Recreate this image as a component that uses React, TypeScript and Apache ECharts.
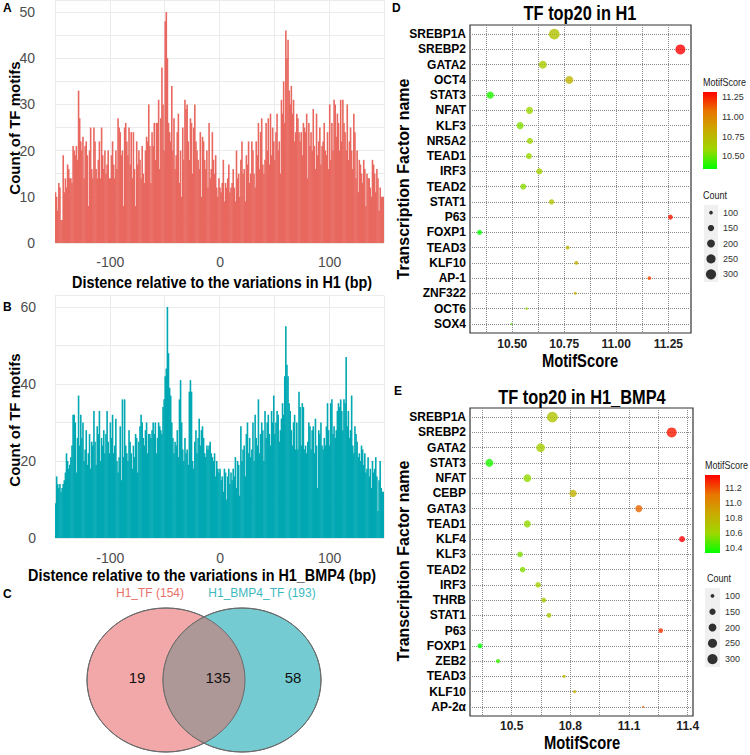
import React, { useEffect, useRef } from 'react';
import * as echarts from 'echarts';

const SANS = "'Liberation Sans', Arial, sans-serif";
const SQUEEZE = 0.82;

// ---------- Panels A / B : TF motif counts per bp position ----------
const binStart = -150;
const distanceTicks = [-100, 0, 100];
const countsH1 = [
  11, 10, 7, 13, 12, 5, 5, 19, 11, 14,
  12, 17, 16, 14, 14, 13, 21, 20, 19, 21,
  18, 33, 27, 22, 20, 23, 14, 21, 22, 19,
  8, 20, 25, 16, 14, 25, 22, 16, 14, 18,
  22, 14, 25, 19, 16, 20, 15, 17, 20, 14,
  14, 19, 22, 17, 14, 20, 16, 27, 25, 24,
  19, 20, 8, 25, 26, 22, 19, 25, 17, 24,
  14, 24, 16, 8, 22, 17, 20, 18, 14, 21,
  15, 13, 20, 23, 22, 30, 21, 13, 24, 21,
  26, 18, 26, 26, 31, 16, 27, 38, 30, 20,
  48, 50, 40, 26, 24, 22, 34, 20, 27, 16,
  19, 24, 28, 13, 20, 10, 25, 18, 31, 29,
  30, 22, 18, 27, 26, 15, 25, 30, 22, 20,
  18, 16, 24, 10, 23, 22, 18, 16, 20, 12,
  26, 14, 16, 24, 18, 15, 19, 12, 10, 14,
  12, 11, 13, 18, 9, 13, 12, 14, 17, 11,
  12, 13, 16, 12, 9, 20, 14, 15, 10, 18,
  22, 15, 16, 9, 19, 17, 22, 13, 15, 22,
  20, 15, 12, 22, 19, 26, 16, 24, 27, 17,
  15, 18, 26, 20, 27, 17, 28, 19, 25, 22,
  18, 24, 28, 20, 22, 15, 31, 28, 35, 26,
  46, 40, 44, 33, 30, 34, 28, 31, 22, 24,
  28, 27, 24, 22, 24, 19, 26, 25, 24, 28,
  14, 26, 21, 24, 20, 29, 21, 16, 28, 19,
  22, 25, 17, 21, 22, 26, 20, 19, 24, 16,
  30, 18, 26, 20, 31, 30, 23, 28, 26, 20,
  31, 22, 31, 26, 24, 20, 30, 18, 22, 25,
  20, 16, 28, 24, 14, 20, 11, 18, 17, 15,
  13, 18, 16, 8, 15, 14, 14, 12, 10, 18,
  17, 15, 11, 16, 14, 7, 12, 10, 10, 10,
];
const countsBMP4 = [
  9, 16, 14, 13, 14, 12, 13, 14, 15, 17,
  22, 20, 18, 19, 21, 24, 32, 32, 30, 17,
  26, 37, 24, 32, 26, 30, 20, 23, 28, 19,
  22, 27, 18, 25, 24, 33, 25, 19, 29, 27,
  33, 20, 26, 24, 28, 22, 27, 33, 25, 22,
  30, 26, 32, 22, 24, 31, 20, 17, 21, 29,
  15, 36, 21, 36, 24, 22, 20, 28, 25, 22,
  18, 24, 21, 27, 26, 17, 25, 29, 32, 30,
  26, 24, 28, 30, 22, 27, 27, 26, 28, 30,
  27, 30, 22, 26, 30, 29, 28, 27, 34, 36,
  42, 44, 60, 48, 39, 37, 30, 26, 22, 25,
  24, 28, 21, 36, 41, 30, 23, 20, 26, 22,
  23, 19, 38, 41, 38, 20, 18, 25, 28, 22,
  26, 31, 24, 28, 29, 26, 22, 21, 24, 23,
  24, 25, 22, 21, 20, 22, 16, 20, 18, 17,
  18, 15, 16, 12, 18, 17, 10, 16, 18, 14,
  17, 15, 18, 16, 21, 13, 20, 19, 11, 29,
  20, 23, 24, 16, 27, 30, 22, 26, 21, 23,
  30, 20, 32, 26, 24, 36, 22, 27, 30, 28,
  20, 33, 26, 30, 32, 27, 24, 33, 30, 37,
  27, 30, 33, 32, 25, 28, 31, 35, 32, 42,
  55, 45, 42, 35, 33, 28, 24, 30, 32, 23,
  30, 23, 38, 34, 24, 35, 34, 23, 24, 22,
  25, 30, 29, 23, 28, 29, 22, 31, 24, 13,
  28, 27, 30, 24, 23, 26, 24, 29, 35, 28,
  24, 35, 36, 27, 29, 26, 28, 33, 35, 34,
  36, 33, 28, 36, 35, 47, 29, 33, 26, 28,
  37, 24, 22, 29, 27, 25, 21, 22, 20, 24,
  23, 19, 22, 17, 18, 21, 16, 18, 13, 20,
  17, 18, 21, 16, 7, 15, 20, 13, 12, 12,
];

// ---------- Panel C : Venn ----------
const vennSetLabels = ['H1_TF (154)', 'H1_BMP4_TF (193)'];
const vennCounts = [19, 135, 58];

// ---------- Panel D : TF top20 in H1 ----------
const tfH1 = ['SREBP1A', 'SREBP2', 'GATA2', 'OCT4', 'STAT3', 'NFAT', 'KLF3', 'NR5A2', 'TEAD1', 'IRF3',
  'TEAD2', 'STAT1', 'P63', 'FOXP1', 'TEAD3', 'KLF10', 'AP-1', 'ZNF322', 'OCT6', 'SOX4'];
const scoreH1 = [10.702, 11.308, 10.647, 10.774, 10.394, 10.583, 10.538, 10.585, 10.580, 10.630,
  10.553, 10.689, 11.260, 10.343, 10.766, 10.808, 11.159, 10.803, 10.569, 10.497];
const countH1 = [330, 289, 204, 204, 180, 170, 170, 150, 142, 150,
  142, 126, 120, 120, 104, 104, 101, 94, 92, 90];

// ---------- Panel E : TF top20 in H1_BMP4 ----------
const tfBMP4 = ['SREBP1A', 'SREBP2', 'GATA2', 'STAT3', 'NFAT', 'CEBP', 'GATA3', 'TEAD1', 'KLF4', 'KLF3',
  'TEAD2', 'IRF3', 'THRB', 'STAT1', 'P63', 'FOXP1', 'ZEB2', 'TEAD3', 'KLF10', 'AP-2α'];
const scoreBMP4 = [10.708, 11.318, 10.648, 10.386, 10.580, 10.814, 11.150, 10.580, 11.371, 10.543,
  10.556, 10.635, 10.664, 10.691, 11.262, 10.338, 10.430, 10.768, 10.822, 11.172];
const countBMP4 = [335, 293, 233, 205, 194, 180, 170, 170, 142, 134,
  134, 134, 119, 114, 114, 119, 107, 95, 95, 88];

const scoreTicksD = [10.5, 10.75, 11.0, 11.25];
const scoreGridD = [10.375, 10.5, 10.625, 10.75, 10.875, 11.0, 11.125, 11.25];
const scoreTicksE = [10.5, 10.8, 11.1, 11.4];
const scoreGridE = [10.35, 10.5, 10.65, 10.8, 10.95, 11.1, 11.25, 11.4];
const colorTicksD = [10.5, 10.75, 11.0, 11.25];
const colorTicksE = [10.4, 10.6, 10.8, 11.0, 11.2];
const countLegend = [100, 150, 200, 250, 300];
const colorStops = ['#00FF00', '#9DD700', '#C9AB00', '#E87600', '#FF0000'];

function dotSize(c: number, lo: number, hi: number) {
  const t = Math.max(0, Math.min(1, (c - lo) / (hi - lo)));
  return 1.8 * (1 + 5 * Math.sqrt(t));
}

function text(x: number, y: number, s: string, o: any = {}) {
  const align = o.align || 'center';
  return {
    type: 'text', x, y, silent: true,
    rotation: o.rotation || 0,
    scaleX: o.sx || 1,
    style: {
      text: s, fill: o.fill || '#000', fontSize: o.size || 12, fontWeight: o.weight || 'normal',
      fontFamily: SANS, align, verticalAlign: 'middle', textAlign: align, textVerticalAlign: 'middle',
    },
  };
}

export default function App() {
  const ref = useRef<HTMLDivElement>(null);
  useEffect(() => {
    if (!ref.current) return;
    const chart = echarts.init(ref.current, undefined, { renderer: 'svg' });

    const catA = countsH1.map((_, i) => String(binStart + i));
    const catB = countsBMP4.map((_, i) => String(binStart + i));
    const idxD = tfH1.map((_, i) => i);
    const idxE = tfBMP4.map((_, i) => i);
    const minD = Math.min(...scoreH1), maxD = Math.max(...scoreH1);
    const minE = Math.min(...scoreBMP4), maxE = Math.max(...scoreBMP4);
    const loD = Math.min(...countH1), hiD = Math.max(...countH1);
    const loE = Math.min(...countBMP4), hiE = Math.max(...countBMP4);

    const gridLine = { show: true, lineStyle: { color: '#EBEBEB', width: 1 } };
    const histX = (gi: number, cats: string[], margin: number) => ({
      type: 'category', gridIndex: gi, data: cats, boundaryGap: true,
      axisLine: { show: false }, axisTick: { show: false },
      axisLabel: {
        interval: (_i: number, v: string) => distanceTicks.includes(Number(v)),
        margin, color: '#4D4D4D', fontSize: 14, fontFamily: SANS,
      },
      splitLine: { ...gridLine, interval: (_i: number, v: string) => Number(v) % 50 === 0 },
    });
    const histY = (gi: number, max: number, step: number, labelStep: number, margin: number) => ({
      type: 'value', gridIndex: gi, min: 0, max, interval: step,
      axisLine: { show: false }, axisTick: { show: false },
      axisLabel: {
        formatter: (v: number) => (v % labelStep === 0 ? String(v) : ''),
        margin, color: '#4D4D4D', fontSize: 14, fontFamily: SANS,
      },
      splitLine: gridLine,
    });
    const dotted = { show: true, lineStyle: { color: '#8A8A8A', type: 'dotted', width: 1 } };
    const scoreX = (gi: number, min: number, max: number, gridVals: number[], ticks: number[], dec: number, margin: number) => ({
      type: 'value', gridIndex: gi, min, max,
      axisLine: { show: false },
      axisTick: { show: false, customValues: gridVals },
      axisLabel: {
        customValues: ticks, formatter: (v: number) => v.toFixed(dec), margin,
        color: '#222', fontSize: 12, fontWeight: 'bold', fontFamily: SANS,
      },
      splitLine: { ...dotted, customValues: gridVals },
    });
    const tfY = (gi: number, names: string[], idx: number[]) => ({
      type: 'value', gridIndex: gi, min: -0.6, max: names.length - 0.4, inverse: true,
      axisLine: { show: false },
      axisTick: { show: false, customValues: idx },
      axisLabel: {
        customValues: idx, formatter: (v: number) => names[Math.round(v)] ?? '', margin: 4,
        color: '#000', fontSize: 12, fontWeight: 'bold', fontFamily: SANS,
      },
      splitLine: { ...dotted, customValues: idx },
    });
    const hiddenCat = (gi: number) => ({ type: 'category', gridIndex: gi, data: [''], show: false, boundaryGap: true });
    const colorY = (gi: number, min: number, max: number, ticks: number[], dec: number) => ({
      type: 'value', gridIndex: gi, min, max, position: 'right',
      axisLine: { show: false },
      axisTick: { show: true, inside: true, length: 3, customValues: ticks, lineStyle: { color: '#fff', width: 1 } },
      axisLabel: {
        customValues: ticks, formatter: (v: number) => v.toFixed(dec), margin: 5,
        color: '#333', fontSize: 9, fontFamily: SANS,
      },
      splitLine: { show: false },
    });
    const keyY = (gi: number) => ({
      type: 'category', gridIndex: gi, data: countLegend.map(String), inverse: true, position: 'right',
      axisLine: { show: false }, axisTick: { show: false },
      axisLabel: { margin: 5, color: '#333', fontSize: 9, fontFamily: SANS },
    });
    const gradient = () => new echarts.graphic.LinearGradient(0, 1, 0, 0,
      colorStops.map((c, i) => ({ offset: i / (colorStops.length - 1), color: c })));

    // Venn lens polygon
    const vcy = 680, vrx = 79, vry = 72, c1 = 166, c2 = 242;
    const xm = (c1 + c2) / 2;
    const th0 = Math.acos((xm - c1) / vrx);
    const lens: number[][] = [];
    const N = 40;
    for (let k = 0; k <= N; k++) {
      const th = -th0 + (2 * th0 * k) / N;
      lens.push([c1 + vrx * Math.cos(th), vcy + vry * Math.sin(th)]);
    }
    for (let k = 0; k <= N; k++) {
      const th = th0 - (2 * th0 * k) / N;
      lens.push([c2 - vrx * Math.cos(th), vcy + vry * Math.sin(th)]);
    }
    const vennStroke = { stroke: '#6A6A6A', lineWidth: 1 };

    const option: any = {
      animation: false,
      backgroundColor: '#fff',
      textStyle: { fontFamily: SANS },
      grid: [
        { left: 55, top: 0.5, width: 329, height: 242.5 },
        { left: 55, top: 295.4, width: 329, height: 242.6 },
        { left: 470, top: 25, width: 221, height: 308, show: true, borderColor: '#333', borderWidth: 1.2 },
        { left: 470, top: 408, width: 223, height: 308, show: true, borderColor: '#333', borderWidth: 1.2 },
        { left: 703, top: 92, width: 14, height: 77 },
        { left: 704, top: 205, width: 14, height: 77, show: true, backgroundColor: '#F0F0F0', borderWidth: 0 },
        { left: 705, top: 475, width: 15, height: 78 },
        { left: 705, top: 588, width: 15, height: 79, show: true, backgroundColor: '#F0F0F0', borderWidth: 0 },
      ],
      xAxis: [
        histX(0, catA, 12),
        histX(1, catB, 13),
        scoreX(2, 10.297, 11.359, scoreGridD, scoreTicksD, 2, 5),
        scoreX(3, 10.287, 11.427, scoreGridE, scoreTicksE, 1, 4),
        hiddenCat(4), hiddenCat(5), hiddenCat(6), hiddenCat(7),
      ],
      yAxis: [
        histY(0, 52.5, 5, 10, 20),
        histY(1, 63, 10, 20, 19),
        tfY(2, tfH1, idxD),
        tfY(3, tfBMP4, idxE),
        colorY(4, minD, maxD, colorTicksD, 2),
        keyY(5),
        colorY(6, minE, maxE, colorTicksE, 1),
        keyY(7),
      ],
      visualMap: [
        { type: 'continuous', show: false, seriesIndex: 2, dimension: 0, min: minD, max: maxD, inRange: { color: colorStops } },
        { type: 'continuous', show: false, seriesIndex: 3, dimension: 0, min: minE, max: maxE, inRange: { color: colorStops } },
      ],
      series: [
        {
          type: 'bar', xAxisIndex: 0, yAxisIndex: 0, data: countsH1, barWidth: 1.6,
          itemStyle: { color: '#E8685F' },
        },
        {
          type: 'bar', xAxisIndex: 1, yAxisIndex: 1, data: countsBMP4, barWidth: 1.6,
          itemStyle: { color: '#00A8B3' },
        },
        {
          type: 'scatter', xAxisIndex: 2, yAxisIndex: 2, clip: false,
          data: tfH1.map((_, i) => [scoreH1[i], i, countH1[i]]),
          symbolSize: (v: number[]) => dotSize(v[2], loD, hiD),
        },
        {
          type: 'scatter', xAxisIndex: 3, yAxisIndex: 3, clip: false,
          data: tfBMP4.map((_, i) => [scoreBMP4[i], i, countBMP4[i]]),
          symbolSize: (v: number[]) => dotSize(v[2], loE, hiE),
        },
        { type: 'bar', xAxisIndex: 4, yAxisIndex: 4, data: [maxD], barWidth: '100%', itemStyle: { color: gradient() } },
        {
          type: 'scatter', xAxisIndex: 5, yAxisIndex: 5, itemStyle: { color: '#000' },
          data: countLegend.map((c, i) => [0, i, c]),
          symbolSize: (v: number[]) => dotSize(v[2], loD, hiD),
        },
        { type: 'bar', xAxisIndex: 6, yAxisIndex: 6, data: [maxE], barWidth: '100%', itemStyle: { color: gradient() } },
        {
          type: 'scatter', xAxisIndex: 7, yAxisIndex: 7, itemStyle: { color: '#000' },
          data: countLegend.map((c, i) => [0, i, c]),
          symbolSize: (v: number[]) => dotSize(v[2], loE, hiE),
        },
      ],
      graphic: [
        // Venn
        { type: 'ellipse', silent: true, shape: { cx: c1, cy: vcy, rx: vrx, ry: vry }, style: { fill: '#F2A8A8', ...vennStroke } },
        { type: 'ellipse', silent: true, shape: { cx: c2, cy: vcy, rx: vrx, ry: vry }, style: { fill: '#74CCD2', ...vennStroke } },
        { type: 'polygon', silent: true, shape: { points: lens }, style: { fill: '#AE9797' } },
        { type: 'ellipse', silent: true, shape: { cx: c1, cy: vcy, rx: vrx, ry: vry }, style: { fill: 'none', ...vennStroke } },
        { type: 'ellipse', silent: true, shape: { cx: c2, cy: vcy, rx: vrx, ry: vry }, style: { fill: 'none', ...vennStroke } },
        text(150, 593, vennSetLabels[0], { fill: '#E8716B', size: 12 }),
        text(262, 593, vennSetLabels[1], { fill: '#3BB8BE', size: 12 }),
        text(137, 677, String(vennCounts[0]), { size: 15, fill: '#111' }),
        text(218, 677, String(vennCounts[1]), { size: 15, fill: '#111' }),
        text(293, 677, String(vennCounts[2]), { size: 15, fill: '#111' }),
        // panel letters
        text(3, 8, 'A', { align: 'left', weight: 'bold', size: 12 }),
        text(3, 307, 'B', { align: 'left', weight: 'bold', size: 12 }),
        text(3, 594, 'C', { align: 'left', weight: 'bold', size: 12 }),
        text(392, 8, 'D', { align: 'left', weight: 'bold', size: 12 }),
        text(394, 391, 'E', { align: 'left', weight: 'bold', size: 12 }),
        // A / B axis titles
        text(222, 282, 'Distence relative to the variations in H1 (bp)', { weight: 'bold', size: 16, sx: 0.9 }),
        text(28, 575, 'Distence relative to the variations in H1_BMP4 (bp)', { weight: 'bold', size: 16, sx: 0.9, align: 'left' }),
        { type: 'rect', silent: true, shape: { x: 390, y: 562, width: 42, height: 26 }, style: { fill: '#fff' } },
        text(14, 128, 'Count of TF motifs', { weight: 'bold', size: 15, rotation: Math.PI / 2 }),
        text(14, 420, 'Count of TF motifs', { weight: 'bold', size: 15, rotation: Math.PI / 2 }),
        // D / E titles
        text(580, 13, 'TF top20 in H1', { weight: 'bold', size: 20, sx: SQUEEZE }),
        text(582, 397, 'TF top20 in H1_BMP4', { weight: 'bold', size: 20, sx: SQUEEZE }),
        text(580, 360, 'MotifScore', { weight: 'bold', size: 18, sx: SQUEEZE }),
        text(582, 742, 'MotifScore', { weight: 'bold', size: 18, sx: SQUEEZE }),
        text(403, 179, 'Transcription Factor name', { weight: 'bold', size: 16, rotation: Math.PI / 2 }),
        text(403, 561, 'Transcription Factor name', { weight: 'bold', size: 16, rotation: Math.PI / 2 }),
        // legend titles
        text(703, 82, 'MotifScore', { align: 'left', size: 11, sx: SQUEEZE, fill: '#222' }),
        text(703, 195, 'Count', { align: 'left', size: 11, sx: SQUEEZE, fill: '#222' }),
        text(705, 465, 'MotifScore', { align: 'left', size: 11, sx: SQUEEZE, fill: '#222' }),
        text(707, 578, 'Count', { align: 'left', size: 11, sx: SQUEEZE, fill: '#222' }),
      ],
    };
    chart.setOption(option);
    return () => chart.dispose();
  }, []);
  return <div ref={ref} style={{ position: 'absolute', left: 0, top: 0, width: 750, height: 755, background: '#fff' }} />;
}
